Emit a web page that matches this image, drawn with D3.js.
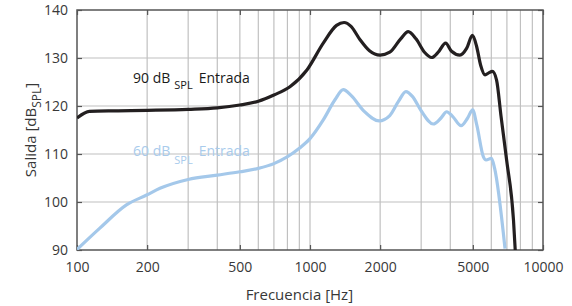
<!DOCTYPE html>
<html>
<head>
<meta charset="utf-8">
<script src="https://cdn.jsdelivr.net/npm/d3@7"></script>
<style>
  body { margin: 0; background: #fff; }
  text { font-family: "Open Sans", "Noto Sans", sans-serif; }
</style>
</head>
<body>
<div id="chart"></div>
<script>
// frequency (Hz) and output (dB SPL)
const freq90 = [100, 113, 150, 200, 300, 400, 500, 600, 700, 820, 970, 1140, 1300, 1400, 1500, 1640, 1800, 2000, 2200, 2450, 2640, 2850, 3100, 3330, 3550, 3820, 4050, 4400, 4700, 4980, 5190, 5400, 5640, 5850, 6060, 6320, 6600, 6980, 7470, 7600];
const out90 = [117.5, 118.9, 119.0, 119.1, 119.3, 119.6, 120.2, 121.0, 122.3, 124.0, 127.5, 133.1, 136.8, 137.4, 136.6, 133.8, 131.5, 130.6, 131.2, 134.0, 135.5, 134.0, 131.2, 130.1, 131.2, 133.1, 131.4, 130.6, 132.0, 134.7, 132.4, 128.5, 126.5, 126.9, 127.2, 125.4, 118.0, 108.75, 96.25, 90.0];

const freq60 = [100, 125, 163, 200, 227, 300, 400, 500, 600, 700, 900, 1000, 1140, 1280, 1390, 1500, 1700, 1980, 2200, 2400, 2580, 2750, 3000, 3380, 3650, 3860, 4100, 4450, 4750, 4990, 5200, 5550, 5700, 6010, 6200, 6870];
const out60 = [90.1, 94.5, 99.4, 101.5, 102.85, 104.7, 105.6, 106.3, 107.0, 108.0, 111.2, 113.2, 117.1, 121.3, 123.4, 122.2, 119.0, 116.9, 118.0, 121.0, 123.0, 122.0, 119.0, 116.25, 117.5, 118.8, 117.8, 115.9, 117.5, 119.2, 116.0, 109.4, 108.75, 109.1, 107.0, 90.3];

const xTicks = [100, 200, 500, 1000, 2000, 5000, 10000];
const xGrid = [200, 300, 400, 500, 600, 700, 800, 900, 1000, 2000, 3000, 4000, 5000, 6000, 7000, 8000, 9000];
const yTicks = [90, 100, 110, 120, 130, 140];

const W = 572, H = 306;
const margin = {top: 10, right: 29, bottom: 56, left: 77};
const width = W - margin.left - margin.right;
const height = H - margin.top - margin.bottom;

const svg = d3.select('#chart')
    .append('svg')
    .attr('width', W)
    .attr('height', H);

const g = svg.append('g')
    .attr('transform', `translate(${margin.left}, ${margin.top})`);

const x = d3.scaleLog()
    .domain([100, 10000])
    .range([0, width]);

const y = d3.scaleLinear()
    .domain([90, 140])
    .range([height, 0]);

// grid
g.append('g')
    .selectAll('line')
    .data(xGrid)
    .enter()
    .append('line')
    .attr('x1', d => x(d)).attr('x2', d => x(d))
    .attr('y1', 0).attr('y2', height)
    .style('stroke', '#c0c0c0')
    .style('stroke-width', 1.2);

g.append('g')
    .selectAll('line')
    .data(yTicks.slice(1, -1))
    .enter()
    .append('line')
    .attr('x1', 0).attr('x2', width)
    .attr('y1', d => y(d)).attr('y2', d => y(d))
    .style('stroke', '#c0c0c0')
    .style('stroke-width', 1.2);

// axes, ticks pointing inwards
const styleAxis = sel => {
    sel.select('.domain').remove();
    sel.selectAll('line').style('stroke', '#555').style('stroke-width', 1.2);
    sel.selectAll('text')
        .style('font-size', '14px')
        .style('fill', '#383838');
};

g.append('g')
    .attr('transform', `translate(0, ${height})`)
    .call(d3.axisBottom(x).tickValues(xTicks).tickFormat(d3.format('d')).tickSizeInner(-5).tickPadding(12))
    .call(styleAxis);

g.append('g')
    .call(d3.axisTop(x).tickValues(xTicks).tickSizeInner(-5).tickFormat(''))
    .call(styleAxis);

g.append('g')
    .call(d3.axisLeft(y).tickValues(yTicks).tickSizeInner(-5).tickPadding(9))
    .call(styleAxis);

g.append('g')
    .attr('transform', `translate(${width}, 0)`)
    .call(d3.axisRight(y).tickValues(yTicks).tickSizeInner(-5).tickFormat(''))
    .call(styleAxis);

// frame
g.append('rect')
    .attr('width', width)
    .attr('height', height)
    .style('fill', 'none')
    .style('stroke', '#555')
    .style('stroke-width', 1.5);

// curves
g.append('clipPath')
    .attr('id', 'clip')
    .append('rect')
    .attr('width', width)
    .attr('height', height);

const line = d3.line()
    .x(d => x(d[0]))
    .y(d => y(d[1]))
    .curve(d3.curveMonotoneX);

g.append('path')
    .datum(d3.zip(freq60, out60))
    .attr('clip-path', 'url(#clip)')
    .attr('d', line)
    .style('fill', 'none')
    .style('stroke', '#a4c8ea')
    .style('stroke-width', 3.2)
    .style('stroke-linejoin', 'round');

g.append('path')
    .datum(d3.zip(freq90, out90))
    .attr('clip-path', 'url(#clip)')
    .attr('d', line)
    .style('fill', 'none')
    .style('stroke', '#231f20')
    .style('stroke-width', 3.2)
    .style('stroke-linejoin', 'round');

// curve labels
const addLabel = (px, py, level, color, subDy) => {
    const t = svg.append('text')
        .attr('x', px)
        .attr('y', py)
        .style('font-size', '14px')
        .style('fill', color);
    t.append('tspan').text(`${level} dB`);
    t.append('tspan').attr('dx', 4).attr('dy', subDy).style('font-size', '11px').text('SPL');
    t.append('tspan').attr('dx', 6).attr('dy', -subDy).text('Entrada');
};
addLabel(133, 83, 90, '#1a1a1a', 6);
addLabel(133, 156, 60, '#a9cbec', 8);

// axis titles
svg.append('text')
    .attr('x', margin.left + x(900))
    .attr('y', 300)
    .attr('text-anchor', 'middle')
    .style('font-size', '15px')
    .style('fill', '#383838')
    .text('Frecuencia [Hz]');

const yt = svg.append('text')
    .attr('transform', `translate(36, ${margin.top + height / 2}) rotate(-90)`)
    .attr('text-anchor', 'middle')
    .style('font-size', '15px')
    .style('fill', '#383838');
yt.append('tspan').text('Salida [dB');
yt.append('tspan').attr('dy', 5).style('font-size', '12px').text('SPL');
yt.append('tspan').attr('dy', -5).text(']');
</script>
</body>
</html>
